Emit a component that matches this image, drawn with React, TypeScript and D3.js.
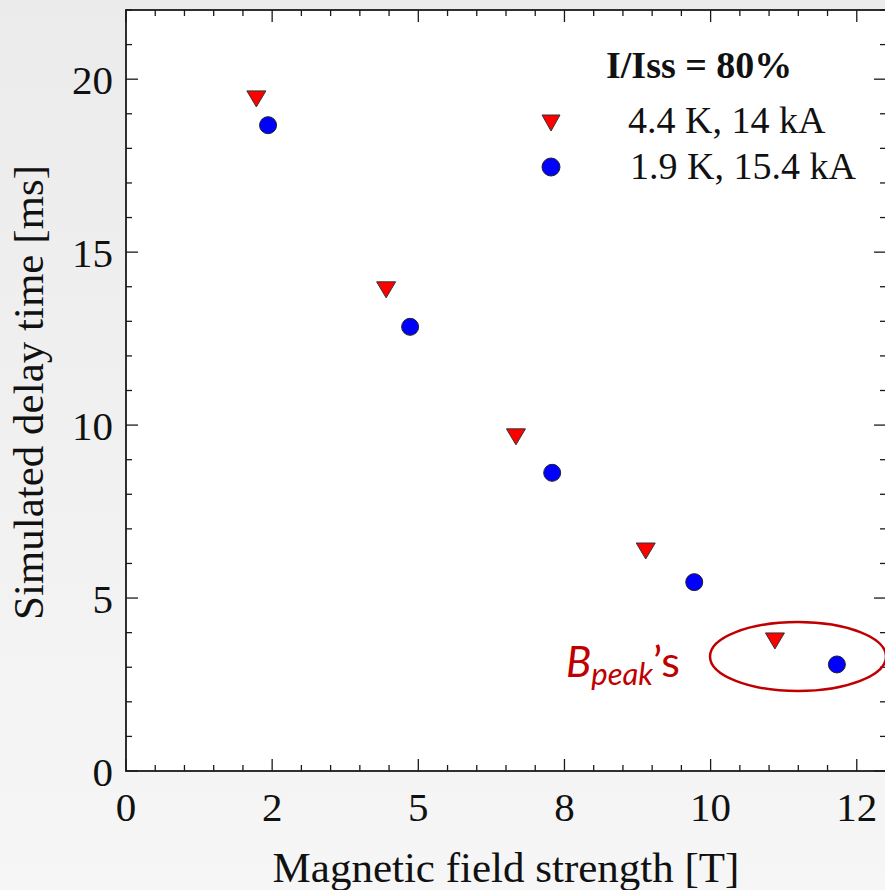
import React from "react";
import * as d3 from "d3";

const W = 885;
const H = 890;

const seriesNames = ["4.4 K, 14 kA", "1.9 K, 15.4 kA"];
const redX = [2.23, 4.45, 6.67, 8.89, 11.1];
const redY = [19.43, 13.91, 9.66, 6.36, 3.76];
const blueX = [2.43, 4.86, 7.29, 9.72, 12.16];
const blueY = [18.67, 12.84, 8.62, 5.46, 3.08];

const xMajorTicks = [0, 2.5, 5, 7.5, 10, 12.5];
const xTickLabels = ["0", "2", "5", "8", "10", "12"];
const yMajorTicks = [0, 5, 10, 15, 20];
const yTickLabels = ["0", "5", "10", "15", "20"];

const serif = "'Liberation Serif', 'Times New Roman', serif";

function triPath(cx: number, cy: number, w: number, h: number) {
  return `M${cx - w / 2},${cy - h / 2}L${cx + w / 2},${cy - h / 2}L${cx},${cy + h / 2}Z`;
}

export default function App() {
  const left = 126,
    right = 886,
    top = 10,
    bottom = 771;
  const x = d3.scaleLinear().domain([0, 13]).range([left, right]);
  const y = d3.scaleLinear().domain([0, 22]).range([bottom, top]);

  const xMinor = d3.range(0, 13.01, 0.5).filter((v) => Math.abs(v / 2.5 - Math.round(v / 2.5)) > 1e-6);
  const yMinor = d3.range(0, 22.01, 1).filter((v) => v % 5 !== 0);
  const axisColor = "#1a1a1a";

  return (
    <svg
      width={W}
      height={H}
      style={{ position: "absolute", left: 0, top: 0 }}
      xmlns="http://www.w3.org/2000/svg"
    >
      <defs>
        <linearGradient id="bg" x1="0" y1="0" x2="0" y2="1">
          <stop offset="0" stopColor="#ebebeb" />
          <stop offset="1" stopColor="#f6f6f6" />
        </linearGradient>
        <clipPath id="clipAll">
          <rect x={0} y={0} width={W} height={H} />
        </clipPath>
      </defs>
      <rect x={0} y={0} width={W} height={H} fill="url(#bg)" />
      <rect x={left} y={top} width={right - left} height={bottom - top} fill="#ffffff" />

      {/* ticks */}
      <g stroke={axisColor} strokeWidth={1.3}>
        {xMajorTicks.map((v, i) => (
          <g key={"xM" + i}>
            <line x1={x(v)} x2={x(v)} y1={bottom} y2={bottom - 12} />
            <line x1={x(v)} x2={x(v)} y1={top} y2={top + 12} />
          </g>
        ))}
        {xMinor.map((v, i) => (
          <g key={"xm" + i}>
            <line x1={x(v)} x2={x(v)} y1={bottom} y2={bottom - 6} />
            <line x1={x(v)} x2={x(v)} y1={top} y2={top + 6} />
          </g>
        ))}
        {yMajorTicks.map((v, i) => (
          <g key={"yM" + i}>
            <line x1={left} x2={left + 12} y1={y(v)} y2={y(v)} />
            <line x1={right} x2={right - 12} y1={y(v)} y2={y(v)} />
          </g>
        ))}
        {yMinor.map((v, i) => (
          <g key={"ym" + i}>
            <line x1={left} x2={left + 6} y1={y(v)} y2={y(v)} />
            <line x1={right} x2={right - 6} y1={y(v)} y2={y(v)} />
          </g>
        ))}
      </g>
      <rect
        x={left}
        y={top}
        width={right - left}
        height={bottom - top}
        fill="none"
        stroke={axisColor}
        strokeWidth={1.8}
      />

      {/* tick labels */}
      <g fontFamily={serif} fontSize={41} fill="#111">
        {xMajorTicks.map((v, i) => (
          <text key={"xl" + i} x={x(v)} y={821} textAnchor="middle">
            {xTickLabels[i]}
          </text>
        ))}
        {yMajorTicks.map((v, i) => (
          <text key={"yl" + i} x={113} y={y(v) + 14.5} textAnchor="end">
            {yTickLabels[i]}
          </text>
        ))}
      </g>

      {/* axis titles */}
      <text
        x={(left + right) / 2}
        y={882}
        textAnchor="middle"
        fontFamily={serif}
        fontSize={43}
        fill="#111"
      >
        Magnetic field strength [T]
      </text>
      <text
        transform={`translate(43, ${(top + bottom) / 2 + 2}) rotate(-90)`}
        textAnchor="middle"
        fontFamily={serif}
        fontSize={43}
        fill="#111"
      >
        Simulated delay time [ms]
      </text>

      {/* data */}
      <g>
        {redX.map((v, i) => (
          <path
            key={"r" + i}
            d={triPath(x(v), y(redY[i]), 19, 16)}
            fill="#ff0000"
            stroke="#333"
            strokeWidth={1}
          />
        ))}
        {blueX.map((v, i) => (
          <circle
            key={"b" + i}
            cx={x(v)}
            cy={y(blueY[i])}
            r={8.5}
            fill="#0000ff"
            stroke="#222"
            strokeWidth={1}
          />
        ))}
      </g>

      {/* legend */}
      <text x={606} y={78} fontFamily={serif} fontWeight="bold" fontSize={38} fill="#111">
        I/Iss = 80%
      </text>
      <path d={triPath(551, 123, 18, 16)} fill="#ff0000" stroke="#333" strokeWidth={1} />
      <circle cx={551} cy={167} r={9} fill="#0000ff" stroke="#222" strokeWidth={1} />
      <text x={628} y={133} fontFamily={serif} fontSize={38} fill="#111">
        {seriesNames[0]}
      </text>
      <text x={630} y={179} fontFamily={serif} fontSize={38} fill="#111">
        {seriesNames[1]}
      </text>

      {/* annotation */}
      <g clipPath="url(#clipAll)">
        <ellipse cx={798} cy={656.5} rx={88} ry={34.5} fill="none" stroke="#c00000" strokeWidth={2.5} />
      </g>
      <text x={566} y={677} fontFamily="Lato, 'Open Sans', sans-serif" fill="#c00000">
        <tspan fontSize={42} fontStyle="italic">B</tspan>
        <tspan fontSize={31} fontStyle="italic" dy={8}>peak</tspan>
        <tspan fontSize={43} dy={-8}>’s</tspan>
      </text>
    </svg>
  );
}
